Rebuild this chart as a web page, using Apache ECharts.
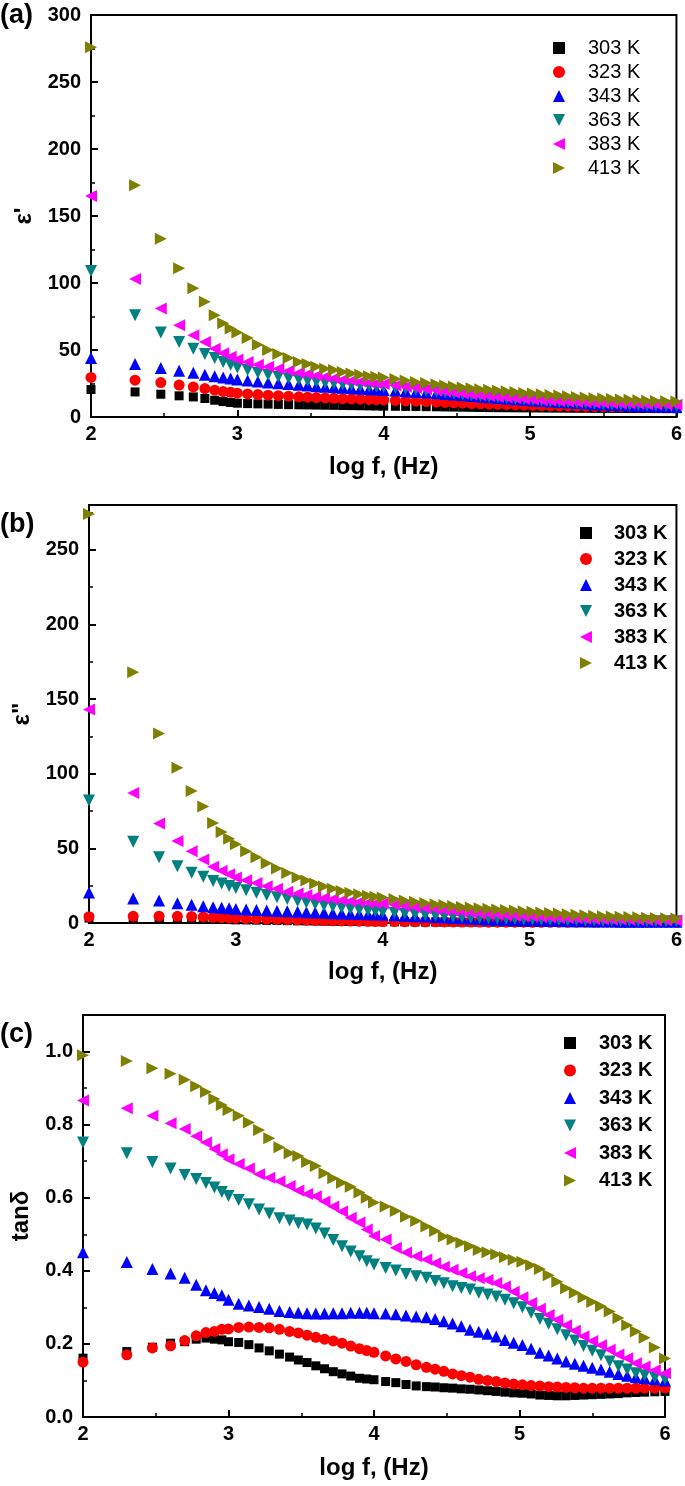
<!DOCTYPE html>
<html>
<head>
<meta charset="utf-8">
<script src="https://cdn.jsdelivr.net/npm/echarts@6/dist/echarts.min.js"></script>
<style>
html,body{margin:0;padding:0;background:#fff;}
#c{width:685px;height:1486px;}
</style>
</head>
<body>
<div id="c"></div>
<script>
// log f (Hz) sample positions
const logF = [2.0,2.301,2.477,2.602,2.699,2.778,2.845,2.903,2.954,3.0,
  3.07,3.14,3.21,3.28,3.35,3.42,3.48,3.54,3.60,3.66,3.72,3.78,3.84,3.90,3.95,4.0,
  4.08,4.15,4.22,4.29,4.36,4.42,4.48,4.54,4.60,4.66,4.72,4.78,4.84,4.90,4.96,
  5.02,5.08,5.14,5.20,5.26,5.32,5.38,5.44,5.50,5.56,5.62,5.68,5.74,5.80,5.86,5.93,6.0];

const temps = ['303 K','323 K','343 K','363 K','383 K','413 K'];

// (a) epsilon'
const epsR_303 = [20.5,18.7,17,15.8,15,13.8,12.5,11.5,10.8,10.3, 10,9.8,9.6,9.4,9.2,9.1,9,8.9,8.8,8.7,8.6,8.5,8.4,8.3,8.2,8.1, 8,7.9,7.8,7.7,7.6,7.5,7.4,7.3,7.2,7.1,7,6.95,6.9,6.85,6.8, 6.75,6.7,6.65,6.6,6.55,6.5,6.5,6.45,6.4,6.4,6.35,6.3,6.3,6.3,6.25,6.2,6.2];
const epsR_323 = [29.5,27.5,25.7,23.8,22.4,21.2,20,19,18.4,17.8, 17.2,16.7,16.3,15.9,15.5,15.1,14.8,14.5,14.2,14,13.7,13.5,13.3,13.1,12.9,12.7, 12.4,12.1,11.8,11.5,11.2,10.9,10.6,10.3,10,9.8,9.6,9.4,9.2,9,8.8, 8.6,8.5,8.3,8.2,8.1,8,7.9,7.8,7.7,7.6,7.5,7.4,7.4,7.3,7.3,7.2,7.2];
const epsR_343 = [44,39.5,36.5,34.5,33,31.5,30.5,29.5,28.8,28, 27.2,26.5,25.8,25.2,24.6,24,23.5,23,22.6,22.2,21.8,21.4,21,20.7,20.5,20.2, 19.7,19.2,18.7,18.2,17.7,17.2,16.7,16.2,15.7,15.2,14.7,14.2,13.7,13.2,12.8, 12.4,12,11.6,11.2,10.8,10.4,10,9.6,9.3,9,8.7,8.4,8.2,8,7.8,7.6,7.5];
const epsR_363 = [109,76,63,56,51,47,44,41,39,37, 35,33,31.5,30,29,28,27,26.3,25.6,25,24.5,24,23.5,23,22.7,22.4, 21.7,21,20.3,19.6,18.9,18.2,17.5,16.8,16.2,15.6,15,14.5,14,13.5,13, 12.5,12,11.6,11.2,10.8,10.5,10.2,9.9,9.6,9.4,9.2,9,8.8,8.6,8.5,8.3,8.2];
const epsR_383 = [165,103,81,68.5,61,56,51,47.5,45,43, 41,39,37.5,36,34.5,33,32,31,30,29,28,27.2,26.5,25.8,25.2,24.6, 23.6,22.6,21.6,20.7,19.8,19,18.2,17.5,16.8,16.2,15.6,15,14.5,14,13.5, 13,12.5,12.2,11.8,11.5,11.2,11,10.7,10.5,10.3,10.1,10,9.8,9.6,9.5,9.3,9.2];
const epsR_413 = [276,173,133,111,96,86,76,70,66,63, 59,54,50,47,44,41,39.5,37.5,36,35,33.5,32.5,31.5,30.5,30,29.5, 28.3,27.2,26.2,25.3,24.5,23.6,22.8,22,21.4,20.8,20.3,19.8,19.2,18.6,18, 17.5,17,16.5,16,15.5,15,14.5,14,13.8,13.5,13,12.8,12.5,12.2,12,11.8,11.5];

// (b) epsilon''
const epsI_303 = [3.3,3.35,3.25,3.2,3.1,2.95,2.7,2.45,2.3,2.1, 2.05,1.95,1.8,1.7,1.58,1.49,1.4,1.33,1.23,1.15,1.07,1,0.94,0.88,0.85,0.83, 0.78,0.74,0.69,0.65,0.63,0.61,0.59,0.58,0.56,0.54,0.52,0.5,0.48,0.47,0.45, 0.44,0.42,0.4,0.39,0.38,0.38,0.38,0.39,0.39,0.4,0.4,0.4,0.41,0.42,0.42,0.43,0.43];
const epsI_323 = [4.2,4.5,4.6,4.5,4.4,4.1,3.8,3.6,3.4,3.2, 3,2.8,2.6,2.4,2.2,2.05,1.9,1.75,1.6,1.5,1.4,1.3,1.2,1.1,1.05,1, 0.95,0.9,0.85,0.8,0.76,0.72,0.68,0.65,0.62,0.6,0.58,0.56,0.54,0.53,0.52, 0.51,0.5,0.5,0.5,0.5,0.5,0.51,0.51,0.52,0.53,0.53,0.54,0.55,0.56,0.56,0.57,0.58];
const epsI_343 = [20.5,16.4,15,13.2,12.3,11.3,10.6,10.2,9.8,9.4, 9,8.7,8.4,8.1,7.8,7.5,7.2,7,6.8,6.6,6.4,6.2,6,5.8,5.7,5.5, 5.2,4.9,4.6,4.3,4,3.7,3.4,3.1,2.8,2.6,2.4,2.2,2,1.85,1.7, 1.6,1.5,1.4,1.3,1.2,1.15,1.1,1.05,1,0.95,0.9,0.88,0.85,0.83,0.8,0.78,0.76];
const epsI_363 = [82,54.5,44,38,33.6,30.9,28.2,26.4,24.8,23.5, 22,20.3,18.8,17.2,16,14.8,13.8,12.8,11.8,11,10.2,9.6,8.9,8.3,7.8,7.4, 6.8,6.3,5.8,5.3,4.9,4.5,4.2,3.9,3.6,3.4,3.2,3,2.8,2.6,2.5, 2.3,2.2,2.1,2,1.9,1.8,1.7,1.6,1.5,1.45,1.4,1.35,1.3,1.25,1.2,1.15,1.1];
const epsI_383 = [143,87,66.7,55,48,42.5,37.6,35,32.7,30.5, 28.7,26.8,24.6,23,21,19.8,18.7,17.6,16.8,16,15.3,14.7,14.2,13.7,13.3,13, 12.2,11.4,10.6,9.9,9.2,8.6,8,7.5,7,6.6,6.2,5.8,5.4,5,4.7, 4.4,4.1,3.8,3.5,3.3,3.1,2.9,2.7,2.5,2.4,2.3,2.2,2.1,2,1.9,1.8,1.7];
const epsI_413 = [274,168,127,104,88.5,78,67,61,56.5,52.8, 48,44,40,36.5,33.5,30.5,28.5,26.5,24.5,23,21.5,20.3,19.2,18.2,17.6,17, 16,15,14.2,13.4,12.6,12,11.4,10.8,10.3,9.9,9.5,9.1,8.7,8.3,7.9, 7.5,7.1,6.7,6.3,5.9,5.5,5.2,4.9,4.6,4.4,4.2,4,3.8,3.6,3.4,3.2,3];

// (c) tan delta
const tan_303 = [0.161,0.179,0.191,0.202,0.206,0.213,0.216,0.213,0.211,0.206, 0.204,0.198,0.189,0.181,0.172,0.164,0.156,0.149,0.140,0.132,0.124,0.118,0.112,0.106,0.104,0.102, 0.097,0.094,0.089,0.085,0.083,0.082,0.080,0.079,0.077,0.076,0.074,0.072,0.070,0.068,0.066, 0.065,0.063,0.060,0.059,0.058,0.058,0.059,0.060,0.061,0.062,0.063,0.064,0.066,0.067,0.068,0.069,0.070];
const tan_323 = [0.150,0.170,0.189,0.195,0.209,0.222,0.231,0.234,0.240,0.241, 0.245,0.246,0.245,0.244,0.240,0.234,0.230,0.224,0.218,0.213,0.208,0.202,0.194,0.187,0.182,0.177, 0.167,0.159,0.152,0.143,0.136,0.131,0.125,0.118,0.113,0.109,0.103,0.100,0.097,0.093,0.090, 0.088,0.086,0.085,0.083,0.082,0.081,0.080,0.079,0.079,0.079,0.079,0.079,0.079,0.079,0.079,0.079,0.080];
const tan_343 = [0.451,0.424,0.405,0.393,0.381,0.362,0.347,0.339,0.333,0.321, 0.310,0.305,0.301,0.296,0.290,0.287,0.285,0.284,0.283,0.283,0.284,0.284,0.285,0.285,0.285,0.284, 0.283,0.281,0.278,0.275,0.273,0.268,0.262,0.256,0.248,0.239,0.233,0.228,0.220,0.211,0.203, 0.197,0.187,0.176,0.168,0.160,0.152,0.146,0.140,0.135,0.130,0.124,0.118,0.113,0.109,0.106,0.103,0.100];
const tan_363 = [0.751,0.722,0.698,0.680,0.662,0.651,0.640,0.628,0.616,0.605, 0.594,0.582,0.568,0.557,0.544,0.538,0.530,0.527,0.516,0.502,0.484,0.467,0.453,0.440,0.426,0.417, 0.408,0.401,0.391,0.385,0.381,0.372,0.366,0.358,0.353,0.349,0.340,0.335,0.330,0.321,0.311, 0.300,0.285,0.268,0.255,0.240,0.224,0.209,0.194,0.181,0.169,0.152,0.139,0.130,0.120,0.114,0.108,0.104];
const tan_383 = [0.866,0.845,0.824,0.804,0.788,0.768,0.751,0.733,0.719,0.705, 0.692,0.680,0.664,0.655,0.645,0.632,0.620,0.610,0.604,0.590,0.576,0.562,0.545,0.532,0.513,0.495, 0.486,0.463,0.450,0.440,0.431,0.421,0.411,0.403,0.394,0.385,0.380,0.375,0.367,0.357,0.343, 0.328,0.312,0.296,0.279,0.266,0.251,0.236,0.221,0.208,0.196,0.184,0.171,0.161,0.147,0.138,0.128,0.120];
const tan_413 = [0.990,0.974,0.954,0.939,0.923,0.905,0.889,0.870,0.854,0.840, 0.824,0.806,0.785,0.763,0.738,0.722,0.714,0.698,0.687,0.667,0.653,0.641,0.630,0.614,0.600,0.587, 0.576,0.564,0.548,0.536,0.521,0.509,0.494,0.486,0.477,0.467,0.457,0.451,0.445,0.437,0.430, 0.425,0.415,0.405,0.388,0.370,0.352,0.340,0.327,0.315,0.303,0.289,0.271,0.251,0.234,0.217,0.190,0.160];

const panelA = [epsR_303, epsR_323, epsR_343, epsR_363, epsR_383, epsR_413];
const panelB = [epsI_303, epsI_323, epsI_343, epsI_363, epsI_383, epsI_413];
const panelC = [tan_303, tan_323, tan_343, tan_363, tan_383, tan_413];

const colors = ['#000000','#ff0000','#0000ff','#008080','#ff00ff','#808000'];
const symbols = ['rect','circle','triangle','path://M0,0L10,0L5,10Z','path://M10,0L10,10L0,5Z','path://M0,0L0,10L10,5Z'];
const sizes = [9,11,12,12,12,12];

const FONT = 'Liberation Sans, Arial, sans-serif';

const chart = echarts.init(document.getElementById('c'), null, {renderer:'canvas'});

const grids = [
  {left:91, top:15, width:589, height:402},
  {left:89, top:505, width:589, height:418},
  {left:83, top:1015, width:582, height:402}
].map(g => Object.assign({show:true, borderColor:'#000', borderWidth:2, backgroundColor:'transparent'}, g));

function xAxis(gi, gap){
  return {
    type:'value', gridIndex:gi, min:2, max:6, interval:1,
    name:'log f, (Hz)', nameLocation:'middle', nameGap:gap,
    nameTextStyle:{fontFamily:FONT, fontWeight:'bold', fontSize:24, color:'#000'},
    axisLine:{show:true, onZero:false, lineStyle:{color:'#000', width:2}},
    axisTick:{show:true, inside:true, length:7, lineStyle:{color:'#000', width:2}},
    minorTick:{show:true, splitNumber:2, length:4, lineStyle:{color:'#000', width:1.5}},
    splitLine:{show:false},
    axisLabel:{fontFamily:FONT, fontWeight:'bold', fontSize:20, color:'#000', margin:7}
  };
}
function yAxisMain(gi, min, max, interval, name, gap, fmt, minor){
  return {
    type:'value', gridIndex:gi, min:min, max:max, interval:interval,
    name:name, nameLocation:'middle', nameGap:gap,
    nameTextStyle:{fontFamily:FONT, fontWeight:'bold', fontSize:24, color:'#000'},
    axisLine:{show:true, onZero:false, lineStyle:{color:'#000', width:2}},
    axisTick:{show:true, inside:true, length:7, lineStyle:{color:'#000', width:2}},
    minorTick:{show:!!minor, splitNumber:2, length:4, lineStyle:{color:'#000', width:1.5}},
    splitLine:{show:false},
    axisLabel:{fontFamily:FONT, fontWeight:'bold', fontSize:20, color:'#000', margin:10, formatter:fmt}
  };
}
function yAxisMinor(gi, min, max, interval){
  return {
    type:'value', gridIndex:gi, min:min, max:max, interval:interval, position:'left',
    axisLine:{show:false},
    axisTick:{show:true, inside:true, length:4, lineStyle:{color:'#000', width:1.5}},
    splitLine:{show:false},
    axisLabel:{show:false}
  };
}

const yAxes = [
  yAxisMain(0, 0, 300, 50, "ε'", 52, v => String(v), true),
  yAxisMain(1, 0, 280, 50, 'ε"', 52, v => (Math.round(v) % 50 === 0 ? String(v) : ''), false),
  yAxisMain(2, 0, 1.1, 0.2, 'tanδ', 50, v => (Math.round(v*10) % 2 === 0 ? v.toFixed(1) : ''), false),
  yAxisMinor(1, 0, 280, 25),
  yAxisMinor(2, 0, 1.1, 0.1)
];

const series = [];
[panelA, panelB, panelC].forEach((panel, p) => {
  panel.forEach((vals, i) => {
    series.push({
      type:'scatter', name:temps[i], xAxisIndex:p, yAxisIndex:p,
      data: logF.map((x, j) => [x, vals[j]]),
      symbol:symbols[i], symbolSize:sizes[i],
      itemStyle:{color:colors[i], opacity:1},
      emphasis:{disabled:true}, clip:true
    });
  });
});

function legend(top, left, gap, bold, pad){
  return {
    orient:'vertical', top:top, left:left, itemGap:gap, itemWidth:12, itemHeight:12,
    data:temps, selectedMode:false,
    textStyle:{fontFamily:FONT, fontSize:20, fontWeight:bold?'bold':'normal', color:'#000', lineHeight:20, padding:[0,0,0,pad]}
  };
}

chart.setOption({
  animation:false,
  backgroundColor:'#fff',
  grid:grids,
  xAxis:[xAxis(0,38), xAxis(1,37), xAxis(2,39)],
  yAxis:yAxes,
  legend:[
    legend(33, 548, 4, false, 18),
    legend(518, 575, 6, true, 17),
    legend(1028, 559, 7.5, true, 18)
  ],
  graphic:[
    {type:'text', left:0, top:2, style:{text:'(a)', font:'bold 27px '+FONT, fill:'#000'}},
    {type:'text', left:0, top:511, style:{text:'(b)', font:'bold 27px '+FONT, fill:'#000'}},
    {type:'text', left:0, top:1021, style:{text:'(c)', font:'bold 27px '+FONT, fill:'#000'}}
  ],
  series:series
});
</script>
</body>
</html>
